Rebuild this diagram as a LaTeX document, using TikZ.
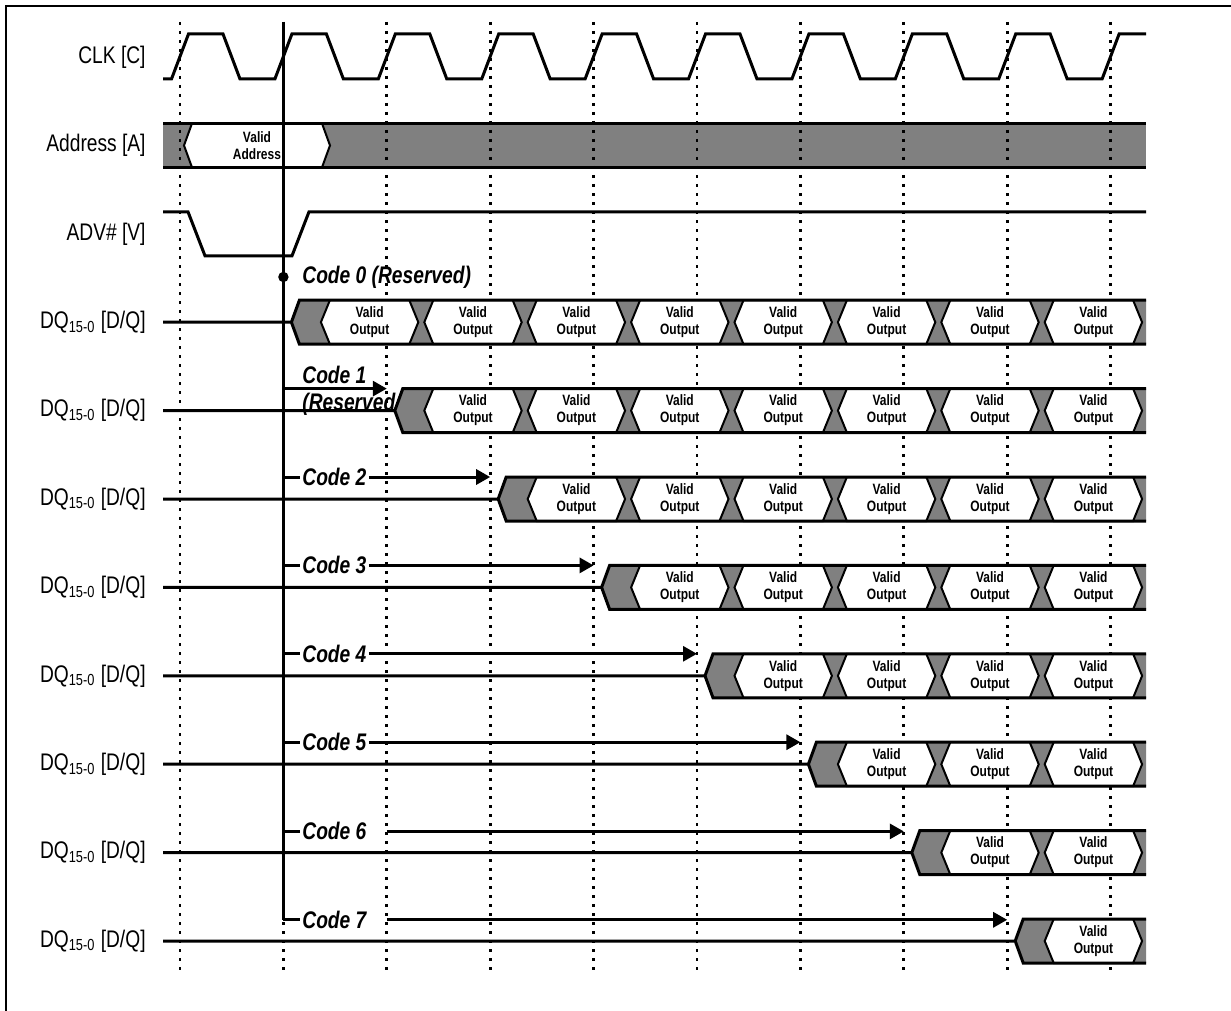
\documentclass[tikz,border=0pt]{standalone}
\usepackage{fontspec}
\newfontfamily\tdfont[FakeStretch=0.8]{Liberation Sans}
\usetikzlibrary{arrows.meta}

\tikzset{
  sig/.style={line width=1.5pt},
  busfill/.style={fill=black!50},
  hexbox/.style={fill=white, draw=black, line width=1pt},
  grid/.style={line width=1.4pt, dash pattern=on 1.3pt off 3.2pt},
  lbl/.style={anchor=east, inner sep=0pt, font=\tdfont\fontsize{12}{14}\selectfont},
  codelbl/.style={anchor=west, inner sep=1pt, font=\tdfont\bfseries\itshape\fontsize{12}{14}\selectfont},
  vout/.style={align=center, inner sep=0pt, font=\tdfont\bfseries\fontsize{7.5}{8.5}\selectfont},
  codeline/.style={line width=1.5pt},
  codearrow/.style={line width=1.5pt, -{Triangle[length=7pt,width=7.5pt]}},
}

\begin{document}
\begin{tikzpicture}[x=0.5pt, y=-0.5pt]
    \useasboundingbox (0,0) rectangle (1231,1011);
    \draw[line width=1pt] (6,1011) -- (6,6) -- (1231,6);

    % signal names
    \node[lbl] (clk) at (146,57) {CLK [C]};
    \node[lbl] (addr) at (146,145.4) {Address [A]};
    \node[lbl] (adv) at (146,233.8) {ADV\# [V]};
    \foreach \k in {0,...,7}
        \node[lbl] (dq\k) at (146,{322.2+88.4*\k}) {DQ\textsubscript{15-0} [D/Q]};

    % address bus background, then the clock grid
    \fill[busfill] (163,123.4) rectangle (1146,167.4);
    \foreach \j in {0,...,9}
        \draw[grid] ({180+103.4*\j},22) -- ({180+103.4*\j},972);

    % clock
    \draw[sig] (163,79) \foreach \j in {0,...,8} {
        -- ({171.5+103.4*\j},79) -- ({188.5+103.4*\j},34)
        -- ({223+103.4*\j},34) -- ({240+103.4*\j},79) }
        -- (1102.1,79) -- (1119.1,34) -- (1146,34);

    % address
    \draw[hexbox] (184,145.4) -- (192,123.4) -- (322,123.4) -- (330,145.4) -- (322,167.4) -- (192,167.4) -- cycle;
    \draw[sig] (163,123.4) -- (1146,123.4) (163,167.4) -- (1146,167.4);
    \node[vout] (va) at (257,145.4) {Valid\\Address};

    % adv#
    \draw[sig] (163,211.8) -- (188,211.8) -- (205,255.8) -- (292,255.8) -- (309,211.8) -- (1146,211.8);

    % data buses
    \foreach \k in {0,...,7} {
        \pgfmathsetmacro{\ry}{322.2+88.4*\k}
        \pgfmathsetmacro{\rl}{291.4+103.4*\k}
        \fill[busfill] (\rl,\ry) -- (\rl+8,\ry-22) -- (1146,\ry-22) -- (1146,\ry+22) -- (\rl+8,\ry+22) -- cycle;
        \foreach \j in {\k,...,7} {
            \pgfmathsetmacro{\hc}{317.9+103.4*\j}
            \draw[hexbox] (\hc+3,\ry) -- (\hc+12,\ry-22) -- (\hc+91.4,\ry-22) -- (\hc+100.4,\ry)
                -- (\hc+91.4,\ry+22) -- (\hc+12,\ry+22) -- cycle;
            \node[vout] (v\k\j) at (\hc+51.7,\ry) {Valid\\Output};
        }
        \draw[sig] (163,\ry) -- (\rl,\ry) -- (\rl+8,\ry-22) -- (1146,\ry-22)
            (\rl,\ry) -- (\rl+8,\ry+22) -- (1146,\ry+22);
    }

    % latency codes
    \coordinate (e0) at (283.4,22);
    \coordinate (e7) at (283.4,919.8);
    \draw[line width=1.1pt] (e0) -- (e7);
    \fill (283.4,277) circle (2.6pt);
    \node[codelbl] (code0) at (300,277) {Code 0 (Reserved)};

    \coordinate (s1) at (283.4,388.6);
    \coordinate (t1) at (386.8,388.6);
    \path[draw, codearrow] (s1) -- (t1);
    \node[codelbl, anchor=base west] (code1) at (300,383) {Code 1};
    \node[codelbl, anchor=base west] (res1) at (300,410) {(Reserved};

    \foreach \k in {2,...,5} {
        \coordinate (s\k) at (283.4,{300.2+88.4*\k});
        \coordinate (t\k) at ({180+103.4*(\k+1)},{300.2+88.4*\k});
        \node[codelbl] (code\k) at (300,{300.2+88.4*\k}) {Code \k};
        \path[draw, codeline] (s\k) -- (code\k.west);
        \path[draw, codearrow] (code\k.east) -- (t\k);
    }

    \coordinate (s6) at (283.4,831.4);
    \coordinate (m6) at (386.8,831.4);
    \coordinate (t6) at (903.8,831.4);
    \node[codelbl] (code6) at (300,831.4) {Code 6};
    \path[draw, codeline] (s6) -- (code6.west);
    \path[draw, codearrow] (m6) -- (t6);

    \coordinate (m7) at (386.8,919.8);
    \coordinate (t7) at (1007.2,919.8);
    \node[codelbl] (code7) at (300,919.8) {Code 7};
    \path[draw, codeline] (e7) -- (code7.west);
    \path[draw, codearrow] (m7) -- (t7);
\end{tikzpicture}
\end{document}
